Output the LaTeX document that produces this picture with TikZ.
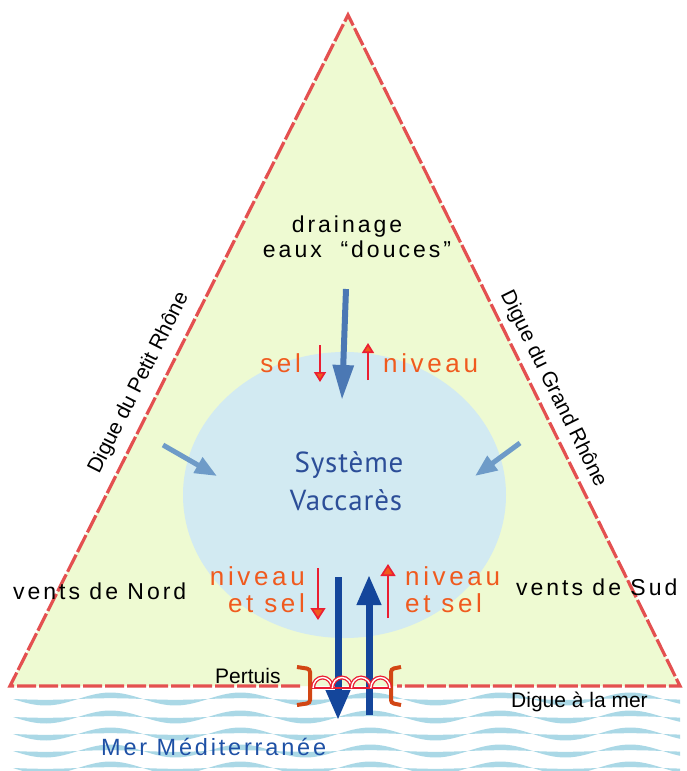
\documentclass[tikz,border=0pt]{standalone}
\usepackage{fontspec}
\setmainfont{Liberation Sans}
\newfontfamily\lsa[LetterSpace=13]{Liberation Sans}
\newfontfamily\lsm[LetterSpace=12]{Liberation Sans}
\newfontfamily\lsb[LetterSpace=14]{Liberation Sans}
\newfontfamily\myr[LetterSpace=3]{PT Sans}
\usetikzlibrary{arrows.meta,shapes.geometric}
\definecolor{tri}{RGB}{238,250,210}
\definecolor{lake}{RGB}{210,234,242}
\definecolor{dike}{RGB}{228,80,80}
\definecolor{wave}{RGB}{170,216,230}
\definecolor{salt}{RGB}{240,90,30}
\definecolor{redarr}{RGB}{235,30,50}
\definecolor{deepblue}{RGB}{20,70,155}
\definecolor{midblue}{RGB}{75,120,180}
\definecolor{softblue}{RGB}{110,155,200}
\definecolor{systxt}{RGB}{44,78,152}
\definecolor{seatxt}{RGB}{30,80,165}
\definecolor{bracket}{RGB}{210,70,20}
\tikzset{
  dikeline/.style={draw=dike, line width=3.2pt, dash pattern=on 19pt off 3pt, line join=miter},
  blacktxt/.style={font=\lsa\fontsize{23}{27}\selectfont, inner sep=0pt},
  salttxt/.style={font=\lsb\fontsize{26}{30}\selectfont, text=salt, inner sep=0pt},
  plaintxt/.style={font=\fontsize{21}{25}\selectfont, inner sep=0pt},
  systxtstyle/.style={font=\myr\fontsize{29}{33}\selectfont, text=systxt, anchor=base, inner sep=0pt},
  redup/.style={draw=redarr, line width=1.6pt, -{Triangle[width=12pt,length=10pt,fill=salt]}},
  redupb/.style={draw=redarr, line width=1.6pt, -{Triangle[width=15pt,length=12pt,fill=salt]}},
  bigflow/.style={draw=deepblue, line width=7pt, -{Triangle[width=23pt,length=30pt]}},
  drainflow/.style={draw=midblue, line width=6pt, -{Triangle[width=20pt,length=35pt]}},
  windflow/.style={draw=softblue, line width=5pt, -{Triangle[width=17pt,length=22pt]}},
}
\begin{document}
\begin{tikzpicture}[x=1pt,y=-1pt]
\useasboundingbox (0,0) rectangle (686,771);
\fill[white] (0,0) rectangle (686,771);
% sea waves
\foreach \wy in {699,717,734,751,768} {
  \fill[wave] plot[domain=13:680,samples=160] (\x,{\wy+6.5*sin((\x-13)*2.77)})
    -- plot[domain=680:13,samples=160] (\x,{\wy+0.8*sin((\x-13)*2.77)}) -- cycle;
}
% triangle
\coordinate (A) at (348,15);
\coordinate (B) at (10,686);
\coordinate (C) at (680,686);
\coordinate (P1) at (300,686);
\coordinate (P2) at (397,686);
\fill[tri] (A) -- (B) -- (C) -- cycle;
\node[ellipse, fill=lake, minimum width=323pt, minimum height=286pt, inner sep=0pt] (lake) at (344.5,495) {};
\draw[dikeline] (P1) -- (B) -- (A) -- (C) -- (P2);
% texts
\node[blacktxt, anchor=base] (drain) at (347,232) {drainage};
\node[blacktxt, anchor=base] (douces) at (357,257) {eaux\ \ “douces”};
\node[salttxt, anchor=base east] (sel1) at (301,372) {sel};
\node[salttxt, anchor=base west] (niv1) at (383,372) {niveau};
\node[salttxt, anchor=base east] (niv2) at (305,585) {niveau};
\node[salttxt, anchor=base east] (et2) at (305,612) {et sel};
\node[salttxt, anchor=base west] (niv3) at (405,585) {niveau};
\node[salttxt, anchor=base west] (et3) at (405,612) {et sel};
\node[blacktxt, anchor=base west] (nord) at (13,599) {vents de Nord};
\node[blacktxt, anchor=base west] (sud) at (516,595) {vents de Sud};
\node[systxtstyle] (sys) at (349,472) {Système};
\node[systxtstyle] (vac) at (346,510) {Vaccarès};
\node[plaintxt, anchor=base west] (pert) at (215,683) {Pertuis};
\node[plaintxt, anchor=base west] (dmer) at (511,707) {Digue à la mer};
\node[font=\lsm\fontsize{23.5}{27}\selectfont, text=seatxt, anchor=base west, inner sep=0pt] (mer) at (101,755) {Mer Méditerranée};
\node[plaintxt, rotate=63.3] (dpr) at (139,383) {Digue du Petit Rhône};
\node[plaintxt, rotate=-63.7] (dgr) at (553,389) {Digue du Grand Rhône};
% arrows
\coordinate (d1) at (346,289); \coordinate (d2) at (342,400);
\draw[drainflow] (d1) -- (d2);
\coordinate (w1) at (163,445); \coordinate (w2) at (217,476);
\draw[windflow] (w1) -- (w2);
\coordinate (e1) at (520,443); \coordinate (e2) at (475,476);
\draw[windflow] (e1) -- (e2);
\coordinate (r1) at (320,345); \coordinate (r2) at (320,382);
\draw[redup] (r1) -- (r2);
\coordinate (r3) at (368,380); \coordinate (r4) at (368,343);
\draw[redup] (r3) -- (r4);
\coordinate (r5) at (318,568); \coordinate (r6) at (318,620);
\draw[redupb] (r5) -- (r6);
\coordinate (r7) at (388,618); \coordinate (r8) at (388,564);
\draw[redupb] (r7) -- (r8);
\coordinate (b1) at (338,577); \coordinate (b2) at (338,720);
\draw[bigflow] (b1) -- (b2);
\coordinate (b3) at (369,715); \coordinate (b4) at (369,575);
\draw[bigflow] (b3) -- (b4);
% pertuis
\draw[bracket, line width=4pt, rounded corners=3pt] (297,667) -- (310,669) -- (310,703) -- (297,705);
\draw[bracket, line width=4pt, rounded corners=3pt] (401,667) -- (391,669) -- (391,703) -- (401,705);
\draw[redarr, line width=2.5pt] (312,688) -- (390,688);
\foreach \cx in {322.6,341.9,361.1,380.4} {
  \draw[redarr, line width=4pt] (\cx-9.6,688) arc[start angle=180,end angle=360,x radius=9.6,y radius=10.5];
  \draw[white, line width=1.4pt] (\cx-9.6,688) arc[start angle=180,end angle=360,x radius=9.6,y radius=10.5];
}
\end{tikzpicture}
\end{document}
